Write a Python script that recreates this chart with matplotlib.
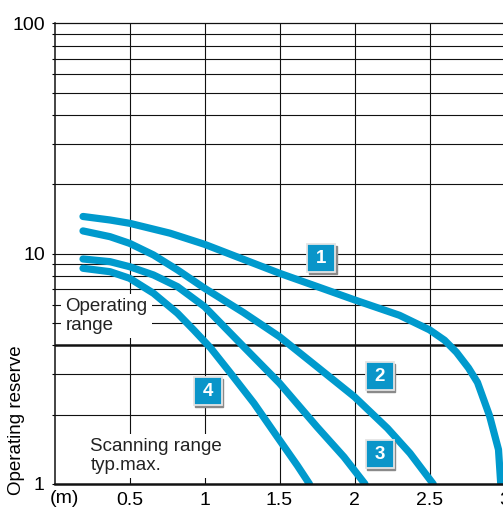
import numpy as np
import matplotlib
matplotlib.use("Agg")
import matplotlib.pyplot as plt
from matplotlib import transforms

plt.rcParams['font.family'] = ['Liberation Sans', 'DejaVu Sans']

# curve data: distance (m) vs operating reserve
x1 = [0.19, 0.37, 0.5, 0.77, 1.0, 1.5, 1.75, 2.0, 2.3, 2.5, 2.6, 2.68, 2.76, 2.82, 2.9, 2.96, 2.975]
y1 = [14.5, 14.0, 13.55, 12.27, 10.98, 8.22, 7.2, 6.3, 5.4, 4.67, 4.21, 3.73, 3.19, 2.76, 1.98, 1.41, 1.0]

x2 = [0.19, 0.37, 0.5, 0.66, 0.82, 1.0, 1.26, 1.5, 1.75, 2.0, 2.22, 2.37, 2.525]
y2 = [12.55, 11.85, 11.09, 9.87, 8.5, 7.08, 5.55, 4.36, 3.23, 2.39, 1.745, 1.36, 1.0]

x3 = [0.19, 0.37, 0.5, 0.66, 0.82, 1.0, 1.26, 1.5, 1.75, 1.93, 2.07]
y3 = [9.48, 9.23, 8.78, 8.08, 7.19, 5.89, 3.95, 2.74, 1.77, 1.31, 1.0]

x4 = [0.19, 0.37, 0.5, 0.66, 0.82, 0.93, 1.04, 1.17, 1.33, 1.48, 1.62, 1.7]
y4 = [8.64, 8.35, 7.82, 6.73, 5.51, 4.65, 3.9, 3.05, 2.24, 1.62, 1.2, 1.0]

curves = [(x1, y1), (x2, y2), (x3, y3), (x4, y4)]

# numbered markers for each curve
tag_labels = ['1', '2', '3', '4']
tag_x = [1.778, 2.167, 2.167, 1.02]
tag_y = [9.55, 2.94, 1.346, 2.53]

xticks = [0.5, 1, 1.5, 2, 2.5, 3]
xtick_labels = ['0.5', '1', '1.5', '2', '2.5', '3']
yticks = [1, 10, 100]
ytick_labels = ['1', '10', '100']

blue = '#009ACD'
tagblue = '#0A95C9'

fig = plt.figure(figsize=(5.03, 5.12), dpi=100)
ax = fig.add_axes([54.5 / 503, 28 / 512, 450 / 503, 460.7 / 512])
ax.set_yscale('log')
ax.set_xlim(0, 3)
ax.set_ylim(1, 100)

# grid
for xv in [0.5, 1, 1.5, 2, 2.5]:
    ax.axvline(xv, color='#111111', lw=0.8, zorder=1)
for dec in [1, 10]:
    for m in range(2, 10):
        v = dec * m
        ax.axhline(v, color='#111111', lw=1.8 if v == 4 else 0.8, zorder=1)
ax.axhline(10, color='#111111', lw=0.8, zorder=1)

for xs, ys in curves:
    ax.plot(xs, ys, color=blue, lw=5.2, solid_capstyle='round',
            solid_joinstyle='round', zorder=3)

shadow = transforms.offset_copy(ax.transData, fig=fig, x=1.8, y=-1.8, units='dots')
for lab, tx, ty in zip(tag_labels, tag_x, tag_y):
    ax.plot([tx], [ty], marker='s', ms=20, mfc='#8a8a8a', mec='#8a8a8a',
            transform=shadow, zorder=4)
    ax.plot([tx], [ty], marker='s', ms=20, mfc=tagblue, mec='#e4e4e4',
            mew=1.3, zorder=5)
    ax.text(tx, ty, lab, color='white', fontsize=13.5, fontweight='bold',
            ha='center', va='center', zorder=6)

ax.text(0.073, 6.4, 'Operating\nrange', fontsize=13.5, color='#222222',
        ha='left', va='top', linespacing=1.15, zorder=2,
        bbox=dict(facecolor='white', edgecolor='none', pad=3))
ax.text(0.24, 1.58, 'Scanning range\ntyp.max.', fontsize=13.5, color='#222222',
        ha='left', va='top', linespacing=1.1, zorder=2,
        bbox=dict(facecolor='white', edgecolor='none', pad=3))

ax.set_xticks(xticks, labels=xtick_labels)
ax.set_yticks(yticks, labels=ytick_labels)
ax.yaxis.set_minor_formatter(matplotlib.ticker.NullFormatter())
ax.tick_params(axis='x', length=0, pad=6, labelsize=14)
ax.tick_params(axis='y', which='both', length=2, width=0.8, pad=5, labelsize=14)
ax.text(0.067, -0.012, '(m)', transform=ax.get_xaxis_transform(),
        fontsize=14, ha='center', va='top')

for s in ['left', 'top', 'bottom']:
    ax.spines[s].set_color('#111111')
    ax.spines[s].set_zorder(7)
ax.spines['right'].set_visible(False)
ax.spines['left'].set_linewidth(1.1)
ax.spines['top'].set_linewidth(0.9)
ax.spines['bottom'].set_linewidth(1.8)

fig.text(17 / 503, 1 - 420 / 512, 'Operating reserve', rotation=90,
         fontsize=13.5, ha='center', va='center')

fig.savefig('out.png', dpi=100)
